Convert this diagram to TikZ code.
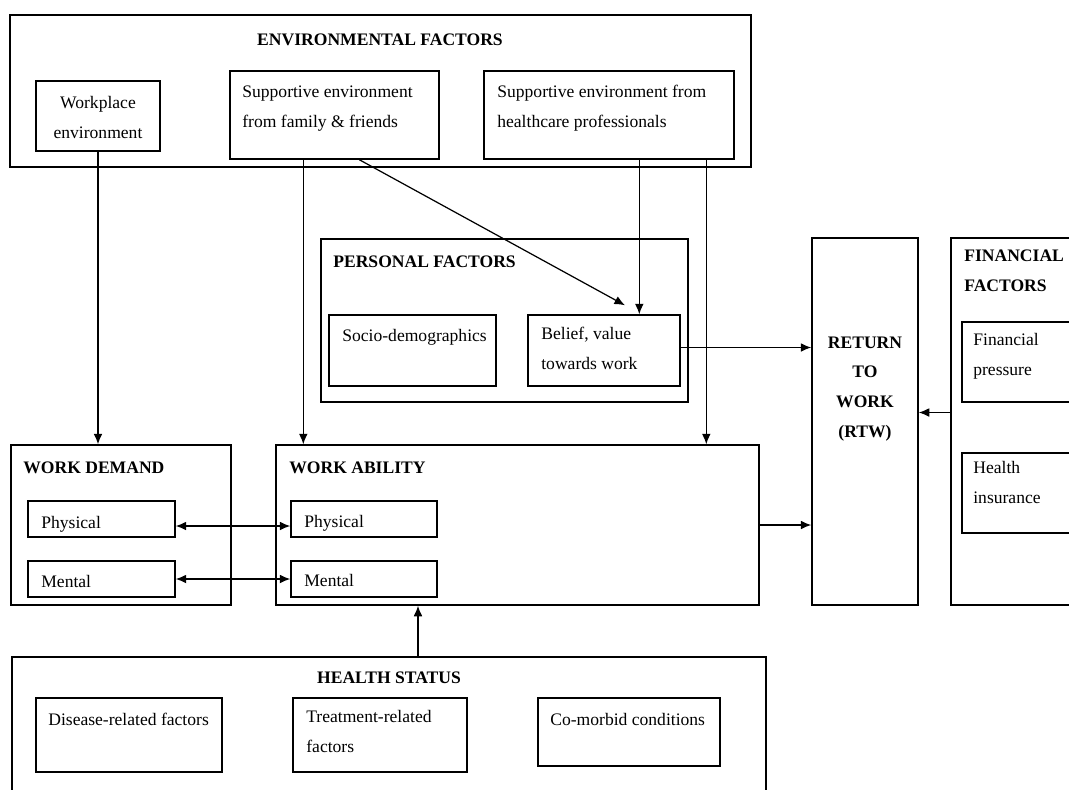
\documentclass[tikz,border=0pt]{standalone}
\usepackage{fontspec}
\setmainfont{Liberation Serif}
\usetikzlibrary{fit,calc,arrows.meta}
\tikzset{
	box/.style={draw, line width=0.8pt, inner sep=0pt},
	lbl/.style={inner sep=0pt, anchor=base west, align=left, font=\fontsize{10}{16.8}\selectfont},
	head/.style={lbl, font=\fontsize{10}{16.8}\selectfont\bfseries},
	link/.style={-{Latex[length=6pt, width=5pt]}, line width=0.7pt},
	both/.style={{Latex[length=6pt, width=5pt]}-{Latex[length=6pt, width=5pt]}, line width=0.7pt},
}
\begin{document}
\begin{tikzpicture}[x=0.02cm, y=-0.02cm]
	\clip (0,0) rectangle (1069,789);
	% environmental factors
	\node[box, fit={(10,15) (751,167)}] (env) {};
	\node[head, anchor=base] (envt) at (380,45) {ENVIRONMENTAL FACTORS};
	\node[box, fit={(36,81) (160,151)}] (wp) {};
	\node[lbl, anchor=base, align=center] (wpt) at (98,138) {Workplace\\environment};
	\node[box, fit={(230,71) (439,159)}] (fam) {};
	\node[lbl] (famt) at (242,127) {Supportive environment\\from family \& friends};
	\node[box, fit={(484,71) (734,159)}] (hc) {};
	\node[lbl] (hct) at (497,127) {Supportive environment from\\healthcare professionals};
	% personal factors
	\node[box, fit={(321,239) (688,402)}] (pers) {};
	\node[head] (perst) at (333,267) {PERSONAL FACTORS};
	\node[box, fit={(329,315) (496,386)}] (soc) {};
	\node[lbl] (soct) at (342,341) {Socio-demographics};
	\node[box, fit={(528,315) (680,386)}] (bel) {};
	\node[lbl] (belt) at (541,369) {Belief, value\\towards work};
	% return to work
	\node[box, fit={(812,238) (918,605)}] (rtw) {};
	\node[head, anchor=base, align=center] (rtwt) at (865,437) {RETURN\\TO\\WORK\\(RTW)};
	% financial factors
	\node[box, fit={(951,238) (1080,605)}] (fin) {};
	\node[head] (fint) at (964,291) {FINANCIAL\\FACTORS};
	\node[box, fit={(962,322) (1080,402)}] (fp) {};
	\node[lbl] (fpt) at (973,375) {Financial\\pressure};
	\node[box, fit={(962,453) (1080,533)}] (hi) {};
	\node[lbl] (hit) at (973,503) {Health\\insurance};
	% work demand and work ability
	\node[box, fit={(11,445) (231,605)}] (wd) {};
	\node[head] (wdt) at (23,473) {WORK DEMAND};
	\node[box, fit={(28,501) (175,537)}] (wdp) {};
	\node[lbl] (wdpt) at (41,528) {Physical};
	\node[box, fit={(28,561) (175,597)}] (wdm) {};
	\node[lbl] (wdmt) at (41,587) {Mental};
	\node[box, fit={(276,445) (759,605)}] (wa) {};
	\node[head] (wat) at (289,473) {WORK ABILITY};
	\node[box, fit={(291,501) (437,537)}] (wap) {};
	\node[lbl] (wapt) at (304,527) {Physical};
	\node[box, fit={(291,561) (437,597)}] (wam) {};
	\node[lbl] (wamt) at (304,586) {Mental};
	% health status
	\node[box, fit={(12,657) (766,800)}] (hs) {};
	\node[head, anchor=base] (hst) at (389,683) {HEALTH STATUS};
	\node[box, fit={(36,698) (222,772)}] (dis) {};
	\node[lbl] (dist) at (48,725) {Disease-related factors};
	\node[box, fit={(293,698) (467,772)}] (trt) {};
	\node[lbl] (trtt) at (306,752) {Treatment-related\\factors};
	\node[box, fit={(538,698) (720,766)}] (com) {};
	\node[lbl] (comt) at (550,725) {Co-morbid conditions};
	% connectors
	\coordinate (famx) at ($(fam.south west)+(74,0)$);
	\coordinate (famd) at ($(fam.south west)+(130,0)$);
	\coordinate (belx) at ($(bel.north)+(21,-9)$);
	\coordinate (hcx) at ($(hc.south west)+(156,0)$);
	\coordinate (hcy) at ($(hc.south west)+(223,0)$);
	\coordinate (hsx) at ($(hs.north)+(29,0)$);
	\coordinate (finx) at ($(fin.west)+(0,-9)$);
	\coordinate (belo) at ($(bel.east)+(0,-3)$);
	\coordinate (wdpo) at ($(wdp.east)+(0,7)$);
	\draw[link] (wp.south) -- (wp.south |- wd.north);
	\draw[link] (famx) -- (famx |- wa.north);
	\draw[link] (famd) -- (belx);
	\draw[link] (hcx) -- (hcx |- bel.north);
	\draw[link] (hcy) -- (hcy |- wa.north);
	\draw[link] (belo) -- (belo -| rtw.west);
	\draw[link] (wa.east) -- (wa.east -| rtw.west);
	\draw[link] (finx) -- (finx -| rtw.east);
	\draw[both] (wdpo) -- (wdpo -| wap.west);
	\draw[both] (wdm.east) -- (wam.west);
	\draw[link] (hsx) -- (hsx |- wa.south);
\end{tikzpicture}
\end{document}
